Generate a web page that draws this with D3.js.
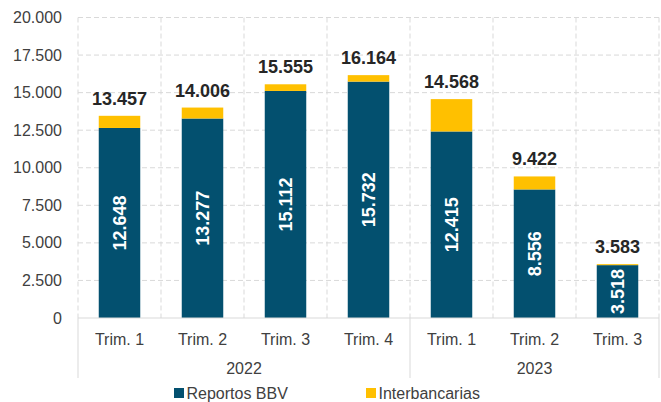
<!DOCTYPE html>
<html>
<head>
<meta charset="utf-8">
<script src="https://cdn.jsdelivr.net/npm/d3@7"></script>
<style>
  body { margin: 0; background: #fff; }
  svg { display: block; font-family: "Liberation Sans", Arial, sans-serif; }
</style>
</head>
<body>
<div id="chart"></div>
<script>
// Quarters and years
const quarters = ["Trim. 1", "Trim. 2", "Trim. 3", "Trim. 4", "Trim. 1", "Trim. 2", "Trim. 3"];
const years = [
  { label: "2022", from: 0, to: 4 },
  { label: "2023", from: 4, to: 7 },
];
const reportos = [12648, 13277, 15112, 15732, 12415, 8556, 3518];
const totals = [13457, 14006, 15555, 16164, 14568, 9422, 3583];
const interbancarias = totals.map((t, i) => t - reportos[i]);
const yTicks = [0, 2500, 5000, 7500, 10000, 12500, 15000, 17500, 20000];

const width = 661;
const height = 402;
const plotLeft = 78, plotRight = 659, plotTop = 17.5, plotBottom = 318;

const blue = "#03506f";
const yellow = "#ffc000";
const fmt = (v) => d3.format(",")(v).replace(/,/g, ".");

const svg = d3.select("#chart").append("svg")
  .attr("width", width)
  .attr("height", height);

const x = d3.scaleBand()
  .domain(d3.range(quarters.length))
  .range([plotLeft, plotRight])
  .paddingInner(0.5)
  .paddingOuter(0.25);
const step = x.step();
const edge = (i) => plotLeft + i * step;

const y = d3.scaleLinear().domain([0, 20000]).range([plotBottom, plotTop]);

// Gridlines (dashed)
const grid = svg.append("g").attr("stroke", "#d9d9d9").attr("stroke-dasharray", "5,3");
grid.selectAll("line.h")
  .data(yTicks.filter((d) => d > 0))
  .join("line")
  .attr("class", "h")
  .attr("x1", plotLeft).attr("x2", plotRight)
  .attr("y1", (d) => y(d)).attr("y2", (d) => y(d));
grid.selectAll("line.v")
  .data(d3.range(quarters.length + 1))
  .join("line")
  .attr("class", "v")
  .attr("x1", (d) => edge(d)).attr("x2", (d) => edge(d))
  .attr("y1", plotTop).attr("y2", plotBottom);

// Y tick labels
svg.append("g")
  .selectAll("text")
  .data(yTicks)
  .join("text")
  .attr("x", 62)
  .attr("y", (d) => y(d))
  .attr("dy", "0.35em")
  .attr("text-anchor", "end")
  .attr("font-size", 16)
  .attr("fill", "#404040")
  .text(fmt);

// Bars: Reportos BBV
svg.append("g")
  .selectAll("rect")
  .data(reportos)
  .join("rect")
  .attr("x", (d, i) => x(i))
  .attr("width", x.bandwidth())
  .attr("y", (d) => y(d))
  .attr("height", (d) => plotBottom - y(d))
  .attr("fill", blue);

// Bars: Interbancarias
svg.append("g")
  .selectAll("rect")
  .data(interbancarias)
  .join("rect")
  .attr("x", (d, i) => x(i))
  .attr("width", x.bandwidth())
  .attr("y", (d, i) => y(totals[i]))
  .attr("height", (d, i) => y(reportos[i]) - y(totals[i]))
  .attr("fill", yellow);

// Inner labels (rotated)
svg.append("g")
  .selectAll("text")
  .data(reportos)
  .join("text")
  .attr("transform", (d, i) => `translate(${x(i) + x.bandwidth() / 2},${(y(d) + plotBottom) / 2}) rotate(-90)`)
  .attr("text-anchor", "middle")
  .attr("dy", "0.35em")
  .attr("font-size", 18)
  .attr("font-weight", "bold")
  .attr("fill", "#fff")
  .text(fmt);

// Total labels
svg.append("g")
  .selectAll("text")
  .data(totals)
  .join("text")
  .attr("x", (d, i) => x(i) + x.bandwidth() / 2)
  .attr("y", (d) => y(d) - 11)
  .attr("text-anchor", "middle")
  .attr("font-size", 18)
  .attr("font-weight", "bold")
  .attr("fill", "#262626")
  .text(fmt);

// Baseline
svg.append("line")
  .attr("x1", plotLeft).attr("x2", plotRight)
  .attr("y1", plotBottom).attr("y2", plotBottom)
  .attr("stroke", "#d9d9d9");

// Category labels
svg.append("g")
  .selectAll("text")
  .data(quarters)
  .join("text")
  .attr("x", (d, i) => x(i) + x.bandwidth() / 2)
  .attr("y", 339)
  .attr("dy", "0.35em")
  .attr("text-anchor", "middle")
  .attr("font-size", 16)
  .attr("fill", "#404040")
  .text((d) => d);

// Year group separators and labels
svg.append("g")
  .selectAll("line")
  .data([0, 4, 7])
  .join("line")
  .attr("x1", (d) => edge(d)).attr("x2", (d) => edge(d))
  .attr("y1", plotBottom).attr("y2", 378)
  .attr("stroke", "#d9d9d9");
svg.append("g")
  .selectAll("text")
  .data(years)
  .join("text")
  .attr("x", (d) => (edge(d.from) + edge(d.to)) / 2)
  .attr("y", 368)
  .attr("dy", "0.35em")
  .attr("text-anchor", "middle")
  .attr("font-size", 16)
  .attr("fill", "#404040")
  .text((d) => d.label);

// Legend
const legend = [
  { label: "Reportos BBV", color: blue, x: 174 },
  { label: "Interbancarias", color: yellow, x: 366 },
];
const lg = svg.append("g").selectAll("g").data(legend).join("g")
  .attr("transform", (d) => `translate(${d.x},393)`);
lg.append("rect").attr("x", 0).attr("y", -5).attr("width", 10).attr("height", 10).attr("fill", (d) => d.color);
lg.append("text")
  .attr("x", 12.5)
  .attr("dy", "0.35em")
  .attr("font-size", 16)
  .attr("fill", "#404040")
  .text((d) => d.label);
</script>
</body>
</html>
